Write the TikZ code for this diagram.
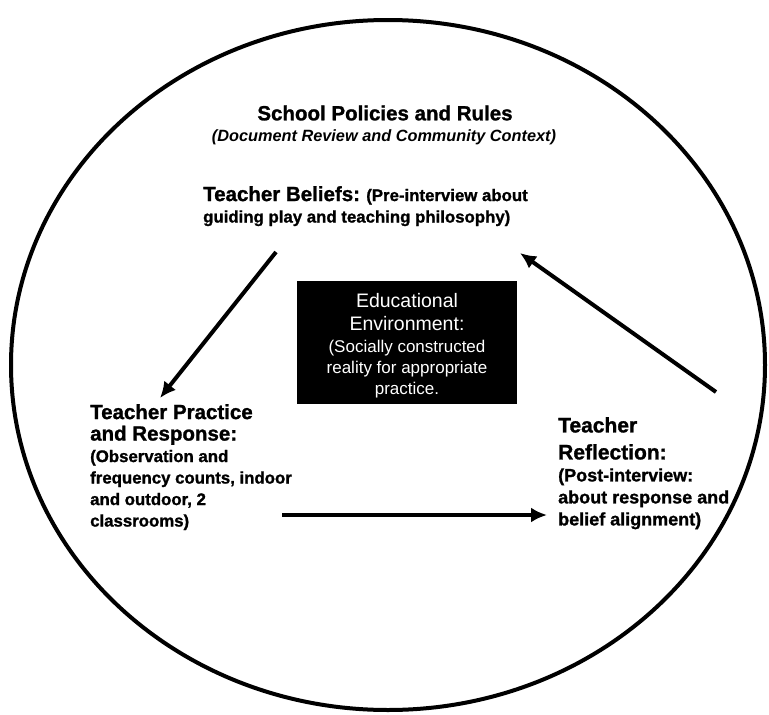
\documentclass[tikz,border=0pt]{standalone}
\usepackage{fontspec}
\setmainfont[BoldFeatures={FakeBold=1.2}]{Liberation Sans}
\usetikzlibrary{arrows.meta}

\newcommand{\hd}[1]{{\fontsize{20.5}{25}\selectfont #1}}

\tikzset{
  label text/.style={font=\fontsize{16.8}{21.5}\selectfont\bfseries, align=left, inner sep=0pt, anchor=north west},
  flow/.style={line width=4pt, -{Latex[length=16pt,width=15pt]}}
}

\begin{document}
\begin{tikzpicture}[x=1pt,y=-1pt]
        \useasboundingbox (0,0) rectangle (769,715);
        \draw[line width=4pt] (388,365) ellipse [x radius=377pt, y radius=345pt];
        \node[font=\fontsize{20.5}{24}\selectfont\bfseries] (policy) at (385,113) {School Policies and Rules};
        \node[font=\fontsize{16.3}{19}\selectfont\bfseries\itshape] (review) at (384,137) {(Document Review and Community Context)};
        \node[label text] (beliefs) at (203,186) {\hd{Teacher Beliefs:} (Pre-interview about\\guiding play and teaching philosophy)};
        \node[fill=black, minimum width=220pt, minimum height=123pt] (env) at (407,342.5) {};
        \node[text=white, align=center, font=\fontsize{17}{21}\selectfont] (envtext) at ([yshift=-3.5pt]env.center)
              {{\fontsize{19.5}{24}\selectfont Educational}\\[2pt]{\fontsize{19.5}{24}\selectfont Environment:}\\[1pt](Socially constructed\\reality for appropriate\\practice.};
        \node[label text] (practice) at (90,404) {\hd{Teacher Practice}\\\hd{and Response:}\\(Observation and\\frequency counts, indoor\\and outdoor, 2\\classrooms)};
        \node[label text, font=\fontsize{18}{22}\selectfont\bfseries] (reflection) at (558,417)
              {{\fontsize{21}{27}\selectfont Teacher}\\[5pt]{\fontsize{21}{25}\selectfont Reflection:}\\(Post-interview:\\about response and\\belief alignment)};
        \coordinate (b1) at (276,252);
        \coordinate (p1) at (160,398);
        \coordinate (r1) at (716,392);
        \coordinate (b2) at (520,253);
        \coordinate (p2) at (282,515);
        \coordinate (r2) at (547,515);
        \draw[flow] (b1) -- (p1);
        \draw[flow] (p2) -- (r2);
        \draw[flow] (r1) -- (b2);
    \end{tikzpicture}
\end{document}
